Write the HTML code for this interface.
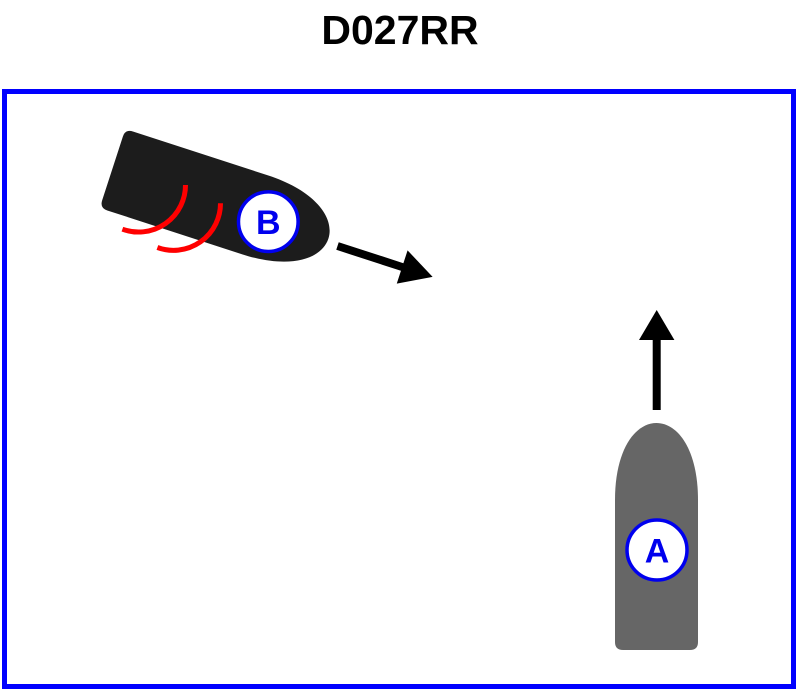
<!DOCTYPE html>
<html>
<head>
<meta charset="utf-8">
<style>
  html, body { margin:0; padding:0; background:#ffffff; }
  body { width:800px; height:695px; overflow:hidden; }
  svg { display:block; }
</style>
</head>
<body>
<svg width="800" height="695" viewBox="0 0 800 695" xmlns="http://www.w3.org/2000/svg">
  <rect x="0" y="0" width="800" height="695" fill="#ffffff"/>
  <text x="400" y="44" text-anchor="middle" font-family="'Liberation Sans', Arial, sans-serif" font-weight="bold" font-size="41" fill="#000">D027RR</text>
  <rect x="4.5" y="91.5" width="789" height="595" fill="#ffffff" stroke="#0000ff" stroke-width="5"/>

  <!-- Boat B -->
  <g transform="translate(112.5,168.5) rotate(18)">
    <path d="M8,-41.5 L150,-41.5 C200,-41.5 227,-21.5 227,0 C227,21.5 200,41.5 150,41.5 L8,41.5 Q0,41.5 0,33.5 L0,-33.5 Q0,-41.5 8,-41.5 Z" fill="#1c1c1c"/>
  </g>
  <!-- wake arcs -->
  <path d="M185.5,185 A47,47 0 0 1 122.4,229.2" fill="none" stroke="#ff0000" stroke-width="5"/>
  <path d="M220.5,203.3 A47,47 0 0 1 157.4,247.5" fill="none" stroke="#ff0000" stroke-width="5"/>
  <circle cx="268.3" cy="221.7" r="29.8" fill="#ffffff" stroke="#0000ee" stroke-width="3.5"/>
  <text x="268.3" y="234" text-anchor="middle" font-family="'Liberation Sans', Arial, sans-serif" font-weight="bold" font-size="34" fill="#0000ee">B</text>

  <!-- Arrow B -->
  <g transform="translate(337.5,246) rotate(18)">
    <rect x="0" y="-4" width="70" height="8" fill="#000"/>
    <polygon points="68,-17.5 100,0 68,17.5" fill="#000"/>
  </g>

  <!-- Boat A -->
  <path d="M615,500 C615,450 635,423 656.5,423 C678,423 698,450 698,500 L698,642 Q698,650 690,650 L623,650 Q615,650 615,642 Z" fill="#666666"/>
  <circle cx="657" cy="550" r="30" fill="#ffffff" stroke="#0000ee" stroke-width="3.5"/>
  <text x="657" y="562.5" text-anchor="middle" font-family="'Liberation Sans', Arial, sans-serif" font-weight="bold" font-size="34" fill="#0000ee">A</text>

  <!-- Arrow A -->
  <rect x="652.7" y="338" width="8" height="72" fill="#000"/>
  <polygon points="639,340 656.7,310 674.4,340" fill="#000"/>
</svg>
</body>
</html>
